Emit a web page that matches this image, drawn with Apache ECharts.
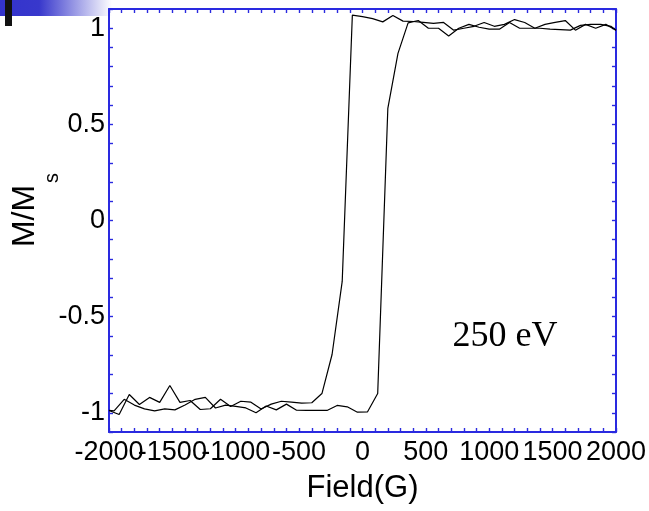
<!DOCTYPE html>
<html><head><meta charset="utf-8">
<script src="https://cdn.jsdelivr.net/npm/echarts@6/dist/echarts.min.js"></script>
<style>html,body{margin:0;padding:0;background:#fff;}#c{width:649px;height:511px;}</style>
</head><body><div id="c"></div>
<script>
// Descending sweep (field from +2000 to -2000), listed in field order
const upperField = [-2000,-1920,-1840,-1760,-1680,-1600,-1520,-1440,-1360,-1280,-1200,-1120,-1040,-960,-880,-800,-720,-640,-560,-480,-400,-320,-240,-160,-80,0,80,160,240,320,400,480,560,640,720,800,880,960,1040,1120,1200,1280,1360,1440,1520,1600,1680,1760,1840,1920,2000];
const upperM = [-0.988,-1.009,-0.905,-0.957,-0.92,-0.946,-0.858,-0.946,-0.936,-0.983,-0.979,-0.93,-0.967,-0.94,-0.945,-0.98,-0.955,-0.94,-0.945,-0.95,-0.948,-0.90,-0.697,-0.317,1.068,1.06,1.05,1.033,1.066,1.037,1.035,1.03,1.025,1.03,0.99,1.0,1.01,1.03,1.01,1.02,1.045,1.03,1.0,1.02,1.03,1.04,0.99,1.02,1.0,1.02,0.99];
// Ascending sweep (field from -2000 to +2000)
const lowerField = [-2000,-1960,-1880,-1800,-1720,-1640,-1560,-1480,-1400,-1320,-1240,-1160,-1080,-1000,-920,-840,-760,-680,-600,-520,-440,-360,-280,-200,-120,-40,40,120,200,280,360,440,520,600,680,760,840,920,1000,1080,1160,1240,1320,1400,1480,1560,1640,1720,1800,1880,1960,2000];
const lowerM = [-0.988,-0.99,-0.93,-0.96,-0.98,-0.99,-0.98,-0.985,-0.96,-0.93,-0.92,-0.975,-0.96,-0.967,-0.975,-1.0,-0.965,-0.985,-0.955,-0.987,-0.988,-0.988,-0.988,-0.962,-0.969,-0.997,-0.995,-0.90,0.583,0.869,1.028,1.04,1.0,1.0,0.96,1.0,1.02,1.005,0.995,0.995,1.03,1.0,1.0,1.0,0.995,0.993,0.99,1.015,1.02,1.02,1.01,0.99];

const xTickValues = [-2000,-1500,-1000,-500,0,500,1000,1500,2000];
const xTickLabels = ['-2000','-1500','-1000','-500','0','500','1000','1500','2000'];
const yTickValues = [-1,-0.5,0,0.5,1];
const yTickLabels = ['-1','-0.5','0','0.5','1'];

const BLUE = '#2a2ae0';
const FONT = '"Liberation Sans", Arial, sans-serif';

function xFmt(v){
  const r = Math.round(v);
  const i = xTickValues.indexOf(r);
  return i >= 0 ? xTickLabels[i] : '';
}
function yFmt(v){
  const r = Math.round(v*10);
  for (let i=0;i<yTickValues.length;i++){ if (Math.round(yTickValues[i]*10) === r) return yTickLabels[i]; }
  return '';
}

const axisLineStyle = {show:true, onZero:false, lineStyle:{color:BLUE, width:2}};
const tickStyle = {show:true, inside:true, length:4, lineStyle:{color:BLUE, width:1.4}};

const chart = echarts.init(document.getElementById('c'), null, {renderer:'canvas'});
chart.setOption({
  animation:false,
  backgroundColor:'#fff',
  grid:{left:109, top:9, width:509, height:423, containLabel:false},
  xAxis:[
    {type:'value', min:-2000, max:2000, interval:100, position:'bottom',
     axisLine:axisLineStyle, axisTick:tickStyle, splitLine:{show:false},
     axisLabel:{formatter:xFmt, color:'#000', fontSize:27, fontFamily:FONT, margin:7, showMinLabel:true, showMaxLabel:true},
     name:'Field(G)', nameLocation:'middle', nameGap:41,
     nameTextStyle:{fontSize:31, color:'#000', fontFamily:FONT}},
    {type:'value', min:-2000, max:2000, interval:100, position:'top',
     axisLine:axisLineStyle, axisTick:tickStyle, splitLine:{show:false}, axisLabel:{show:false}}
  ],
  yAxis:[
    {type:'value', min:-1.1, max:1.1, interval:0.1, position:'left',
     axisLine:axisLineStyle, axisTick:tickStyle, splitLine:{show:false},
     axisLabel:{formatter:yFmt, color:'#000', fontSize:27, fontFamily:FONT, margin:4, showMinLabel:true, showMaxLabel:true}},
    {type:'value', min:-1.1, max:1.1, interval:0.1, position:'right',
     axisLine:axisLineStyle, axisTick:tickStyle, splitLine:{show:false}, axisLabel:{show:false}}
  ],
  series:[
    {type:'line', xAxisIndex:0, yAxisIndex:0, data:upperField.map((f,i)=>[f, upperM[i]]),
     symbol:'none', lineStyle:{color:'#000', width:1.2}, silent:true},
    {type:'line', xAxisIndex:0, yAxisIndex:0, data:lowerField.map((f,i)=>[f, lowerM[i]]),
     symbol:'none', lineStyle:{color:'#000', width:1.2}, silent:true}
  ],
  graphic:[
    {type:'rect', z:-10, shape:{x:0, y:0, width:112, height:16},
     style:{fill:new echarts.graphic.LinearGradient(0,0,1,0,[{offset:0,color:'#3333cc'},{offset:0.35,color:'#3838cc'},{offset:1,color:'#ffffff'}])}},
    {type:'rect', z:-9, shape:{x:5, y:0, width:7, height:26}, style:{fill:'#111'}},
    {type:'text', x:25, y:216, rotation:Math.PI/2,
     style:{text:'M/M', font:'32px '+FONT, fill:'#000', align:'center', verticalAlign:'middle'}},
    {type:'text', x:52, y:178, rotation:Math.PI/2,
     style:{text:'s', font:'20px '+FONT, fill:'#000', align:'center', verticalAlign:'middle'}},
    {type:'text', x:505, y:337,
     style:{text:'250 eV', font:'36px "Liberation Serif", "Times New Roman", serif', fill:'#000', align:'center', verticalAlign:'middle'}}
  ]
});
</script>
</body></html>
